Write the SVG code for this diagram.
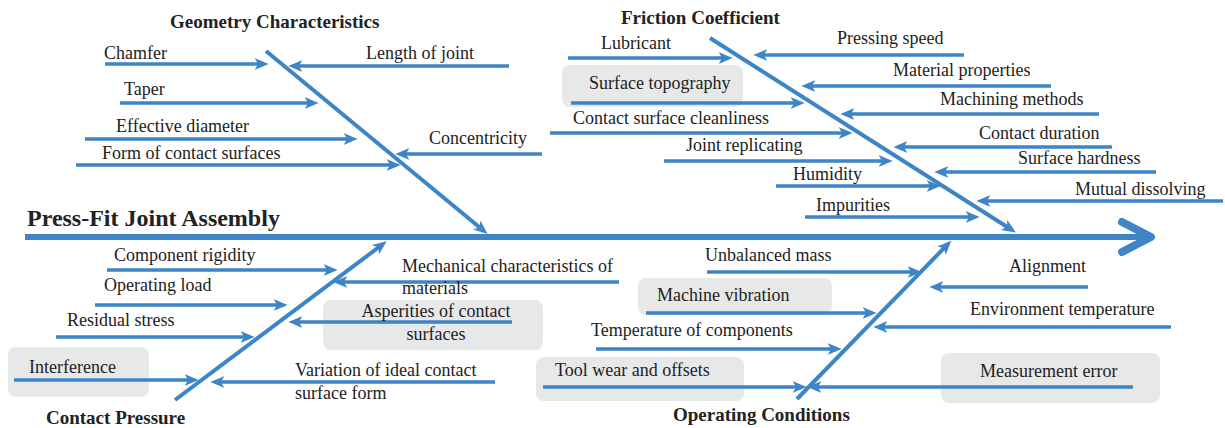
<svg xmlns="http://www.w3.org/2000/svg" width="1225" height="428" viewBox="0 0 1225 428">
<style>
text{font-family:"Liberation Serif","Times New Roman",serif;font-size:18px;fill:#222}
.t{font-weight:bold;font-size:19px}
.m{font-weight:bold;font-size:24px}
.box{fill:#E7E8E8}
.rib{stroke:#3D85C6;stroke-width:3.5;fill:none;marker-end:url(#ah)}
.dia{stroke:#3D85C6;stroke-width:4;fill:none;marker-end:url(#ah2)}
</style>
<defs>
<marker id="ah" markerUnits="userSpaceOnUse" markerWidth="14" markerHeight="12" refX="8" refY="5" orient="auto" viewBox="0 0 12 10">
<path d="M0,0 L12,5 L0,10 L3,5 Z" fill="#3D85C6"/>
</marker>
<marker id="ah2" markerUnits="userSpaceOnUse" markerWidth="14" markerHeight="12" refX="8" refY="5" orient="auto" viewBox="0 0 12 10">
<path d="M0,0 L12,5 L0,10 L3,5 Z" fill="#3D85C6"/>
</marker>
</defs>

<g id="boxes">
<rect class="box" x="562" y="65" width="181" height="42" rx="8"/>
<rect class="box" x="323" y="300" width="220" height="50" rx="8"/>
<rect class="box" x="8" y="347" width="141" height="50" rx="8"/>
<rect class="box" x="638" y="278" width="194" height="37" rx="8"/>
<rect class="box" x="536" y="357" width="208" height="44" rx="8"/>
<rect class="box" x="941" y="353" width="219" height="50" rx="8"/>
</g>

<g id="connectors">
<!-- spine -->
<line x1="25" y1="237" x2="1146" y2="237" stroke="#3D85C6" stroke-width="6"/>
<polyline points="1122,222 1151,237 1122,252" fill="none" stroke="#3D85C6" stroke-width="8" stroke-linecap="round" stroke-linejoin="round"/>
<!-- diagonals -->
<line class="dia" x1="266" y1="51" x2="484" y2="231"/>
<line class="dia" x1="710" y1="38" x2="1012" y2="230"/>
<line class="dia" x1="175" y1="400" x2="383" y2="244"/>
<line class="dia" x1="797" y1="399" x2="948" y2="244"/>
<!-- geometry ribs -->
<line class="rib" x1="105" y1="64" x2="264" y2="64"/>
<line class="rib" x1="509" y1="66" x2="293" y2="66"/>
<line class="rib" x1="120" y1="103" x2="314" y2="103"/>
<line class="rib" x1="85" y1="139" x2="353" y2="139"/>
<line class="rib" x1="542" y1="154" x2="400" y2="154"/>
<line class="rib" x1="76" y1="165" x2="396" y2="165"/>
<!-- friction ribs -->
<line class="rib" x1="568" y1="58" x2="728" y2="58"/>
<line class="rib" x1="964" y1="55" x2="758" y2="55"/>
<line class="rib" x1="571" y1="103" x2="800" y2="103"/>
<line class="rib" x1="1051" y1="86" x2="806" y2="86"/>
<line class="rib" x1="1099" y1="114" x2="845" y2="114"/>
<line class="rib" x1="550" y1="133" x2="848" y2="133"/>
<line class="rib" x1="1112" y1="147" x2="898" y2="147"/>
<line class="rib" x1="664" y1="161" x2="888" y2="161"/>
<line class="rib" x1="1156" y1="172" x2="939" y2="172"/>
<line class="rib" x1="776" y1="186" x2="936" y2="186"/>
<line class="rib" x1="1223" y1="201" x2="981" y2="201"/>
<line class="rib" x1="805" y1="217" x2="975" y2="217"/>
<!-- contact pressure ribs -->
<line class="rib" x1="107" y1="270" x2="333" y2="270"/>
<line class="rib" x1="619" y1="282" x2="338" y2="282"/>
<line class="rib" x1="95" y1="305" x2="283" y2="305"/>
<line class="rib" x1="512" y1="322" x2="293" y2="322"/>
<line class="rib" x1="56" y1="337" x2="250" y2="337"/>
<line class="rib" x1="14" y1="380" x2="194" y2="380"/>
<line class="rib" x1="495" y1="382" x2="215" y2="382"/>
<!-- operating ribs -->
<line class="rib" x1="707" y1="272" x2="917" y2="272"/>
<line class="rib" x1="1088" y1="287" x2="934" y2="287"/>
<line class="rib" x1="646" y1="313" x2="872" y2="313"/>
<line class="rib" x1="1171" y1="327" x2="878" y2="327"/>
<line class="rib" x1="596" y1="349" x2="837" y2="349"/>
<line class="rib" x1="543" y1="387" x2="802" y2="387"/>
<line class="rib" x1="1133" y1="387" x2="812" y2="387"/>
</g>

<g id="title"><text class="m" x="27" y="226">Press-Fit Joint Assembly</text></g>

<g id="geometry">
<text class="t" x="170" y="28">Geometry Characteristics</text>
<text x="104" y="59">Chamfer</text>
<text x="366" y="59">Length of joint</text>
<text x="124" y="95">Taper</text>
<text x="116" y="132">Effective diameter</text>
<text x="429" y="144">Concentricity</text>
<text x="102" y="159">Form of contact surfaces</text>
</g>

<g id="friction">
<text class="t" x="621" y="24">Friction Coefficient</text>
<text x="601" y="49">Lubricant</text>
<text x="837" y="44">Pressing speed</text>
<text x="589" y="89">Surface topography</text>
<text x="893" y="76">Material properties</text>
<text x="940" y="105">Machining methods</text>
<text x="573" y="124">Contact surface cleanliness</text>
<text x="979" y="139">Contact duration</text>
<text x="686" y="151">Joint replicating</text>
<text x="1018" y="164">Surface hardness</text>
<text x="793" y="180">Humidity</text>
<text x="1075" y="195">Mutual dissolving</text>
<text x="816" y="211">Impurities</text>
</g>

<g id="contact-pressure">
<text class="t" x="46" y="424">Contact Pressure</text>
<text x="114" y="261">Component rigidity</text>
<text x="402" y="272">Mechanical characteristics of</text>
<text x="402" y="294">materials</text>
<text x="104" y="291">Operating load</text>
<text x="436" y="317" text-anchor="middle">Asperities of contact</text>
<text x="436" y="340" text-anchor="middle">surfaces</text>
<text x="67" y="326">Residual stress</text>
<text x="29" y="373">Interference</text>
<text x="295" y="376">Variation of ideal contact</text>
<text x="295" y="399">surface form</text>
</g>

<g id="operating-conditions">
<text class="t" x="673" y="421">Operating Conditions</text>
<text x="705" y="261">Unbalanced mass</text>
<text x="1009" y="272">Alignment</text>
<text x="657" y="301">Machine vibration</text>
<text x="970" y="315">Environment temperature</text>
<text x="591" y="336">Temperature of components</text>
<text x="555" y="376">Tool wear and offsets</text>
<text x="980" y="377">Measurement error</text>
</g>
</svg>
